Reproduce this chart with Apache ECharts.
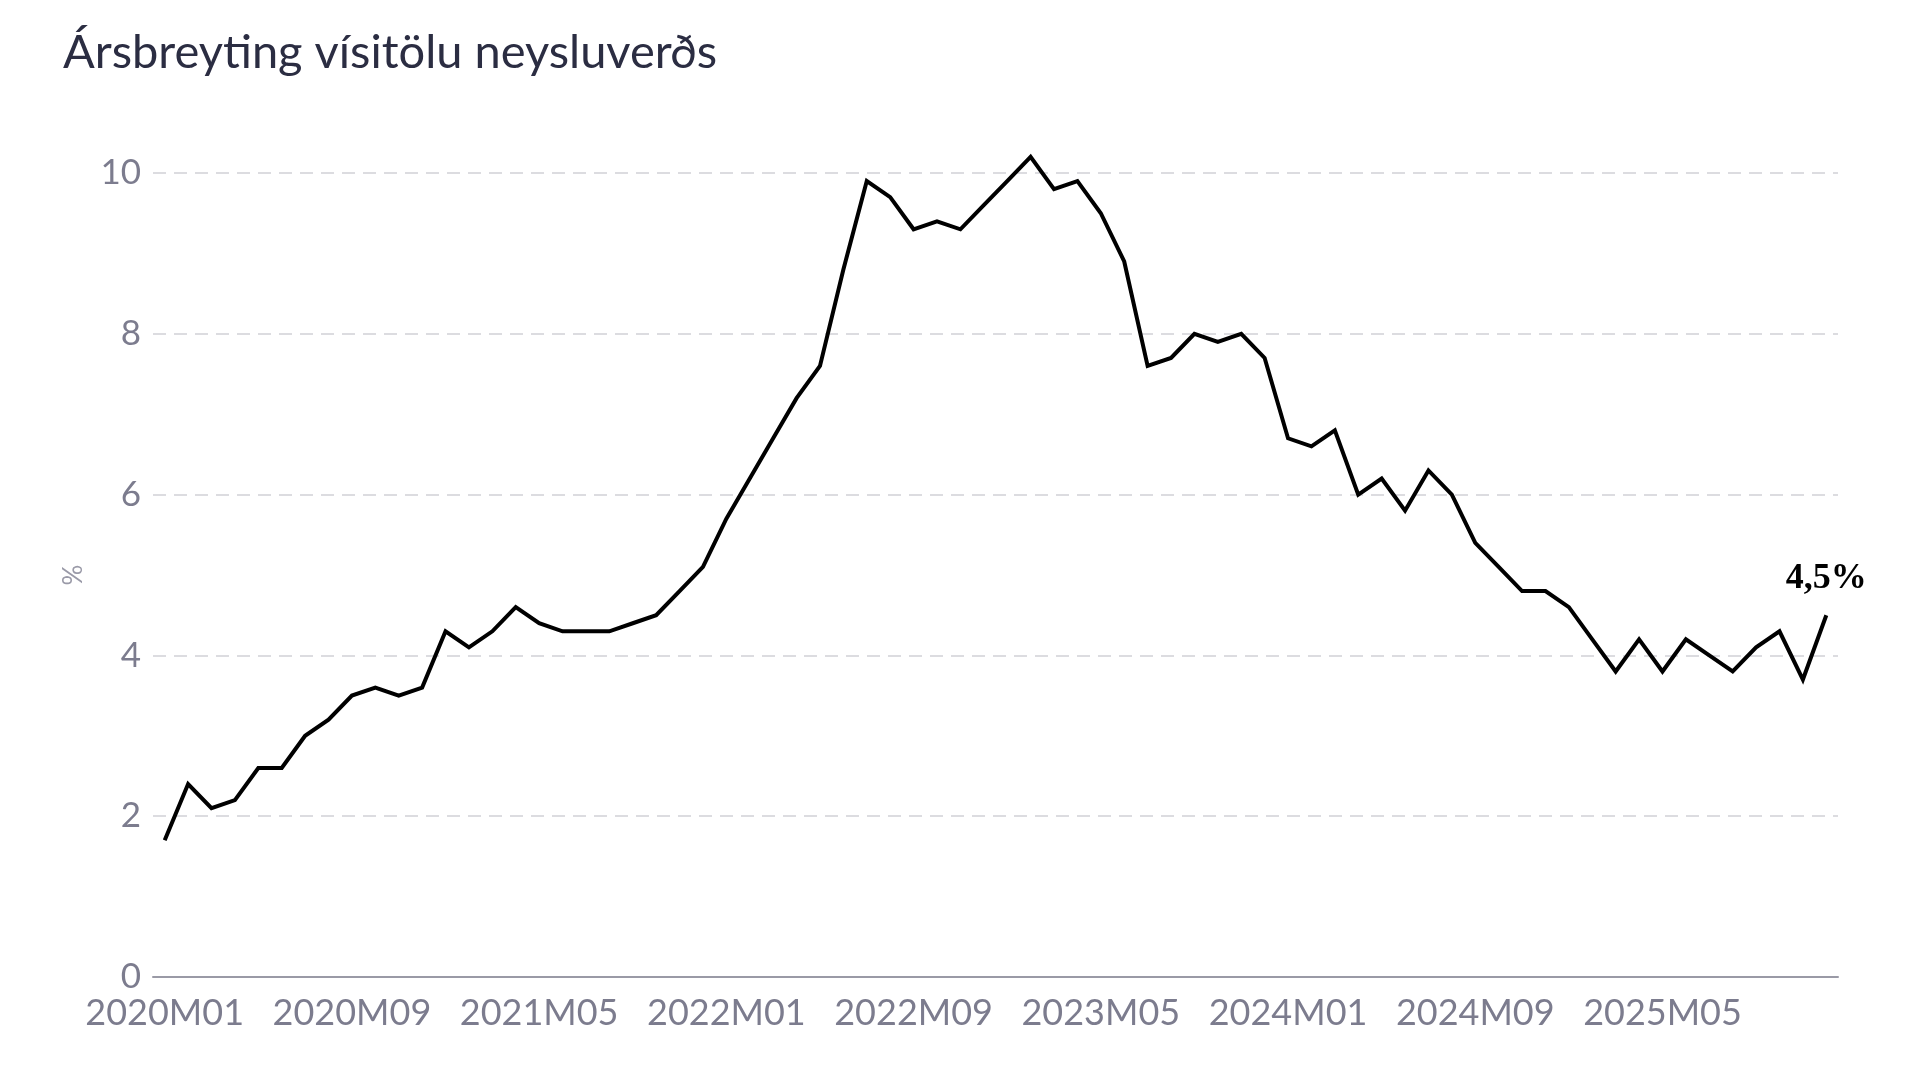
<!DOCTYPE html>
<html>
<head>
<meta charset="utf-8">
<title>Ársbreyting vísitölu neysluverðs</title>
<script src="https://cdn.jsdelivr.net/npm/echarts@6/dist/echarts.min.js"></script>
<style>
  html, body { margin: 0; padding: 0; background: #fff; }
  #chart { width: 1920px; height: 1080px; }
</style>
</head>
<body>
<div id="chart"></div>
<script>
// ár sem eru á ásnum, mánuðir 2020M01 - 2025M12
const years = [2020, 2021, 2022, 2023, 2024, 2025];
const months = ['01', '02', '03', '04', '05', '06', '07', '08', '09', '10', '11', '12'];
const categories = [];
years.forEach(y => months.forEach(m => categories.push(y + 'M' + m)));

// ársbreyting í %
const inflation = [
  1.7, 2.4, 2.1, 2.2, 2.6, 2.6, 3.0, 3.2, 3.5, 3.6, 3.5, 3.6,
  4.3, 4.1, 4.3, 4.6, 4.4, 4.3, 4.3, 4.3, 4.4, 4.5, 4.8, 5.1,
  5.7, 6.2, 6.7, 7.2, 7.6, 8.8, 9.9, 9.7, 9.3, 9.4, 9.3, 9.6,
  9.9, 10.2, 9.8, 9.9, 9.5, 8.9, 7.6, 7.7, 8.0, 7.9, 8.0, 7.7,
  6.7, 6.6, 6.8, 6.0, 6.2, 5.8, 6.3, 6.0, 5.4, 5.1, 4.8, 4.8,
  4.6, 4.2, 3.8, 4.2, 3.8, 4.2, 4.0, 3.8, 4.1, 4.3, 3.7, 4.5
];

const yTicks = [0, 2, 4, 6, 8, 10];

const chart = echarts.init(document.getElementById('chart'));
const last = inflation.length - 1;

const option = {
  animation: false,
  title: {
    text: 'Ársbreyting vísitölu neysluverðs',
    left: 58,
    top: 24,
    textStyle: {
      fontFamily: 'Lato',
      fontWeight: 'normal',
      fontSize: 47,
      color: '#2b2d42'
    }
  },
  grid: {
    left: 153,
    right: 82,
    top: 173,
    bottom: 103
  },
  xAxis: {
    type: 'category',
    boundaryGap: true,
    data: categories,
    axisLine: {
      lineStyle: { color: '#9a9aa6', width: 2 }
    },
    axisTick: { show: false },
    axisLabel: {
      interval: 7,
      margin: 18,
      color: '#7c7c8e',
      fontFamily: 'Lato',
      fontSize: 36
    }
  },
  yAxis: {
    type: 'value',
    min: yTicks[0],
    max: yTicks[yTicks.length - 1],
    interval: 2,
    name: '%',
    nameLocation: 'middle',
    nameRotate: 90,
    nameGap: 66,
    nameTextStyle: {
      color: '#9a9aa8',
      fontFamily: 'Lato',
      fontSize: 26
    },
    axisLine: { show: false },
    axisTick: { show: false },
    axisLabel: {
      margin: 12,
      color: '#7c7c8e',
      fontFamily: 'Lato',
      fontSize: 35
    },
    splitLine: {
      lineStyle: {
        color: '#dcdce0',
        width: 2,
        type: [13, 8]
      }
    }
  },
  series: [{
    type: 'line',
    clip: false,
    symbol: 'circle',
    symbolSize: 0,
    showSymbol: true,
    showAllSymbol: true,
    lineStyle: { color: '#000', width: 4, join: 'miter' },
    itemStyle: { color: '#000' },
    data: inflation.map((v, i) => i === last ? {
      value: v,
      label: {
        show: true,
        position: 'top',
        distance: 18,
        formatter: p => p.value.toFixed(1).replace('.', ',') + '%',
        fontFamily: 'Liberation Serif',
        fontWeight: 'bold',
        fontSize: 36,
        color: '#000'
      }
    } : v)
  }]
};

chart.setOption(option);
</script>
</body>
</html>
